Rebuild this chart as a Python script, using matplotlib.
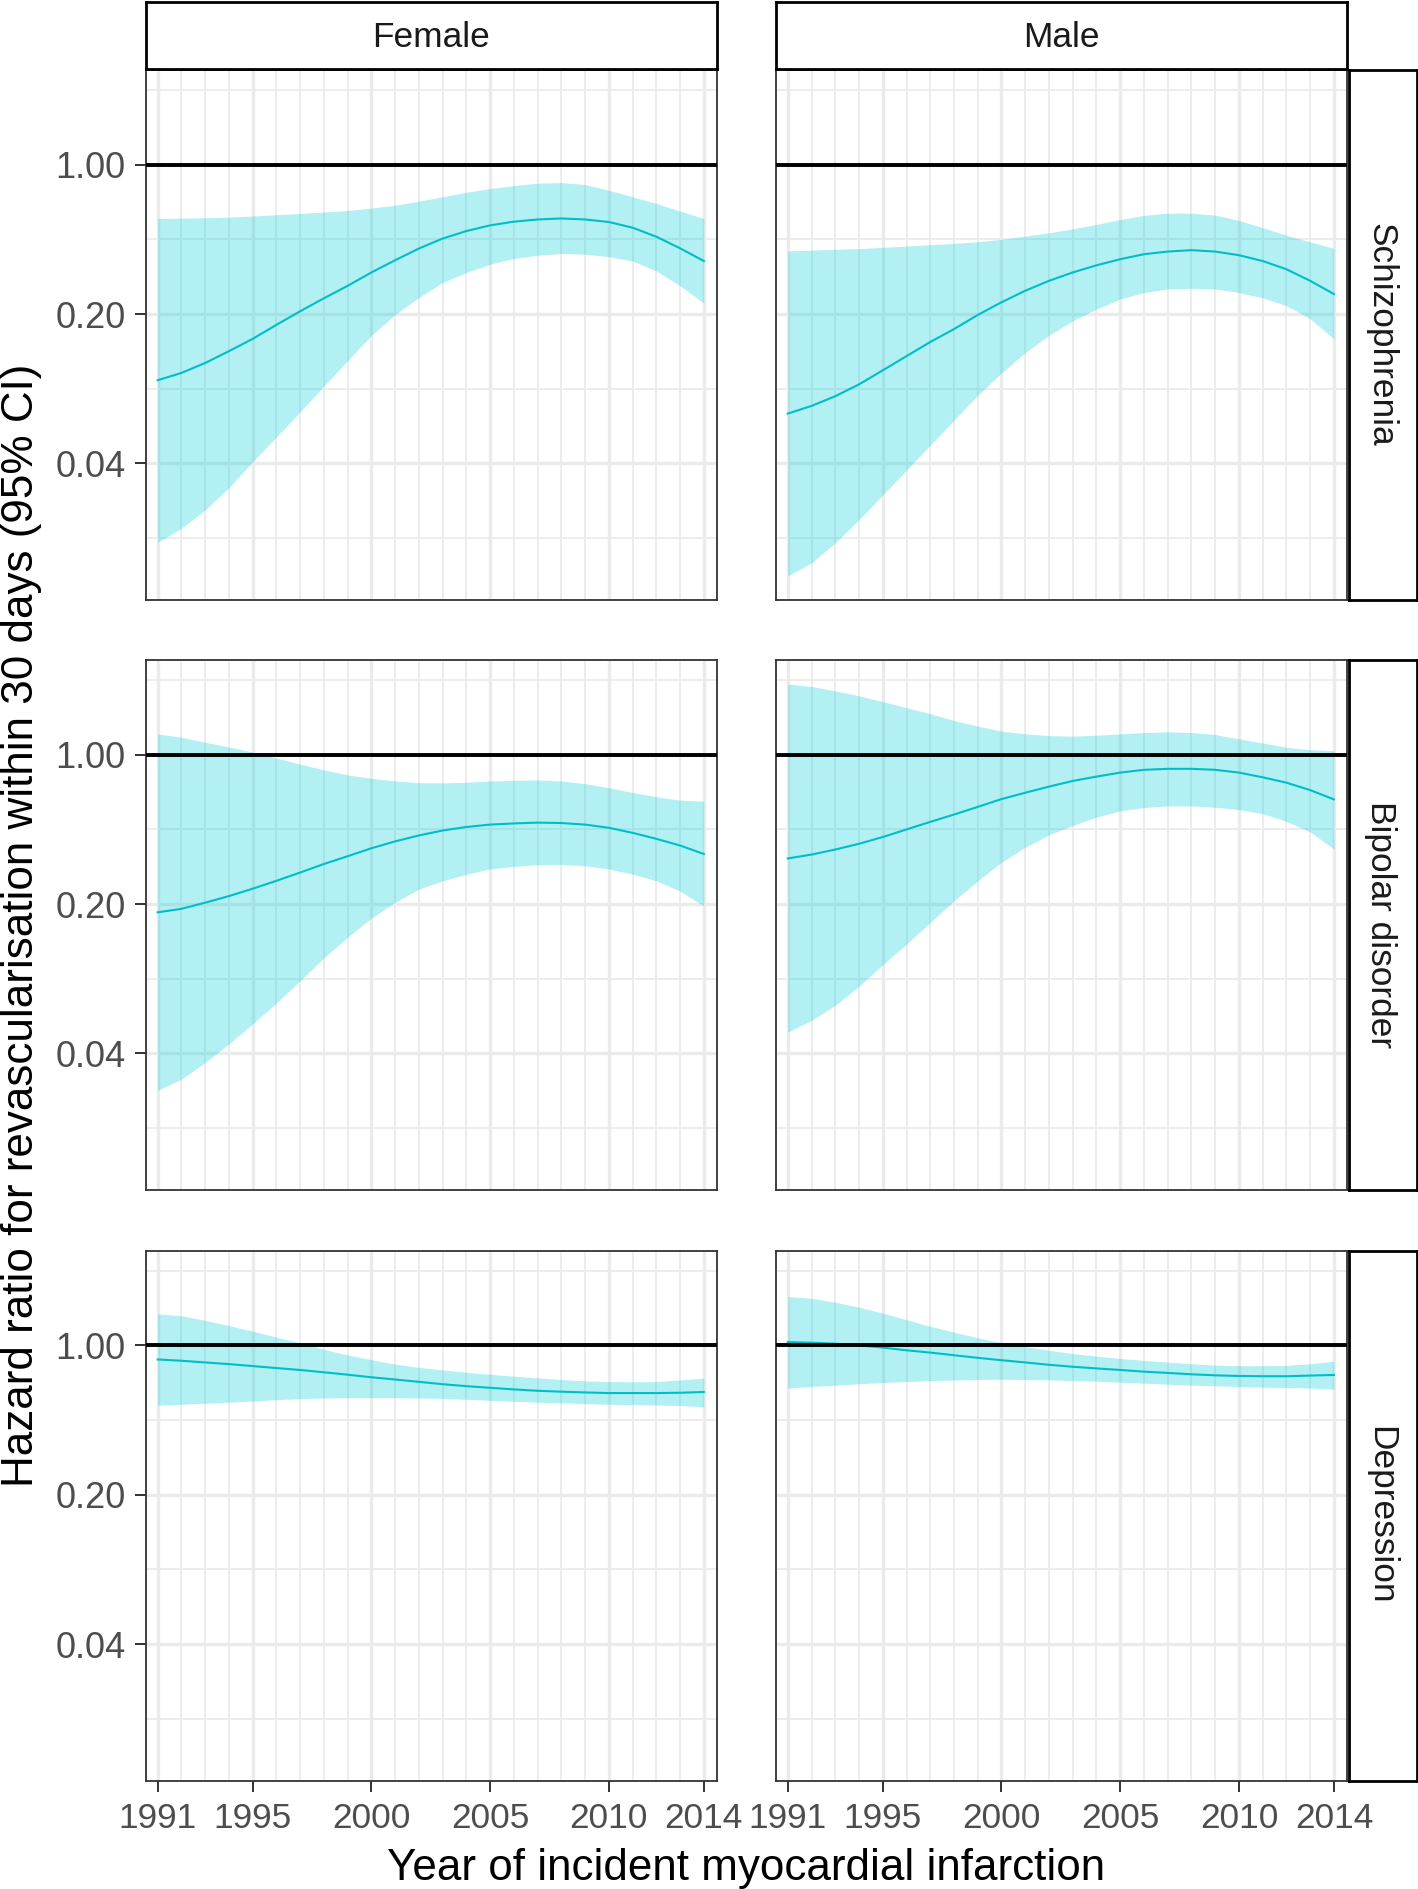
import numpy as np
import matplotlib.pyplot as plt
from matplotlib.ticker import NullFormatter

plt.rcParams['font.family'] = ['Liberation Sans', 'DejaVu Sans']

years = list(range(1991, 2015))
sexes = ['Female', 'Male']
disorders = ['Schizophrenia', 'Bipolar disorder', 'Depression']

# hazard ratio, lower and upper 95% CI (one value per year 1991-2014)
schiz_f_hr = [0.098, 0.106, 0.118, 0.134, 0.153, 0.178, 0.206, 0.237, 0.271, 0.313, 0.357, 0.405,
              0.451, 0.489, 0.520, 0.541, 0.554, 0.560, 0.554, 0.539, 0.507, 0.460, 0.406, 0.354]
schiz_f_lo = [0.0171, 0.0199, 0.0242, 0.0308, 0.0407, 0.0532, 0.0697, 0.092, 0.121, 0.159, 0.199, 0.239,
              0.281, 0.313, 0.342, 0.364, 0.377, 0.384, 0.381, 0.371, 0.354, 0.318, 0.271, 0.225]
schiz_f_hi = [0.560, 0.562, 0.564, 0.568, 0.575, 0.583, 0.591, 0.600, 0.610, 0.626, 0.646, 0.675,
              0.707, 0.743, 0.773, 0.798, 0.819, 0.824, 0.807, 0.759, 0.707, 0.658, 0.606, 0.560]

schiz_m_hr = [0.0684, 0.0743, 0.0825, 0.0937, 0.109, 0.127, 0.148, 0.170, 0.198, 0.227, 0.257, 0.286,
              0.313, 0.338, 0.361, 0.381, 0.392, 0.398, 0.392, 0.377, 0.354, 0.324, 0.286, 0.248]
schiz_m_lo = [0.0119, 0.0137, 0.0170, 0.0218, 0.0285, 0.0372, 0.0487, 0.0637, 0.0833, 0.106, 0.132, 0.159,
              0.186, 0.211, 0.235, 0.252, 0.262, 0.264, 0.262, 0.252, 0.238, 0.219, 0.190, 0.153]
schiz_m_hi = [0.395, 0.398, 0.402, 0.405, 0.410, 0.416, 0.422, 0.428, 0.436, 0.447, 0.463, 0.480,
              0.501, 0.525, 0.554, 0.579, 0.593, 0.593, 0.581, 0.548, 0.507, 0.467, 0.435, 0.406]

bipol_f_hr = [0.183, 0.190, 0.203, 0.218, 0.236, 0.257, 0.281, 0.308, 0.335, 0.365, 0.393, 0.419,
              0.442, 0.459, 0.471, 0.477, 0.481, 0.479, 0.471, 0.455, 0.431, 0.404, 0.376, 0.343]
bipol_f_lo = [0.0269, 0.0303, 0.0363, 0.0443, 0.0550, 0.0689, 0.0875, 0.112, 0.140, 0.172, 0.204, 0.235,
              0.257, 0.276, 0.292, 0.300, 0.306, 0.307, 0.302, 0.292, 0.276, 0.257, 0.230, 0.196]
bipol_f_hi = [1.252, 1.207, 1.144, 1.087, 1.029, 0.965, 0.904, 0.850, 0.804, 0.776, 0.754, 0.740,
              0.738, 0.743, 0.754, 0.759, 0.762, 0.754, 0.732, 0.701, 0.666, 0.636, 0.613, 0.606]

bipol_m_hr = [0.327, 0.341, 0.360, 0.383, 0.412, 0.447, 0.485, 0.525, 0.570, 0.620, 0.664, 0.709,
              0.754, 0.790, 0.825, 0.850, 0.859, 0.859, 0.850, 0.825, 0.784, 0.740, 0.683, 0.618]
bipol_m_lo = [0.0503, 0.0571, 0.0672, 0.0826, 0.104, 0.130, 0.164, 0.207, 0.257, 0.314, 0.369, 0.422,
              0.467, 0.511, 0.546, 0.566, 0.576, 0.576, 0.568, 0.554, 0.530, 0.488, 0.435, 0.362]
bipol_m_hi = [2.141, 2.087, 1.991, 1.886, 1.773, 1.661, 1.556, 1.447, 1.361, 1.289, 1.252, 1.229,
              1.221, 1.234, 1.252, 1.270, 1.280, 1.270, 1.243, 1.186, 1.135, 1.083, 1.056, 1.044]

depr_f_hr = [0.859, 0.847, 0.832, 0.817, 0.800, 0.783, 0.767, 0.748, 0.729, 0.709, 0.692, 0.675,
             0.658, 0.644, 0.633, 0.622, 0.613, 0.607, 0.602, 0.598, 0.598, 0.598, 0.600, 0.605]
depr_f_lo = [0.525, 0.530, 0.536, 0.542, 0.549, 0.557, 0.563, 0.567, 0.569, 0.569, 0.569, 0.567,
             0.565, 0.559, 0.553, 0.547, 0.542, 0.538, 0.534, 0.530, 0.528, 0.526, 0.523, 0.515]
depr_f_hi = [1.405, 1.376, 1.309, 1.237, 1.165, 1.093, 1.029, 0.958, 0.902, 0.856, 0.817, 0.789,
             0.767, 0.748, 0.732, 0.717, 0.704, 0.692, 0.682, 0.677, 0.675, 0.677, 0.689, 0.702]

depr_m_hr = [1.036, 1.029, 1.018, 1.000, 0.976, 0.948, 0.925, 0.899, 0.874, 0.852, 0.832, 0.811,
             0.794, 0.780, 0.767, 0.753, 0.743, 0.732, 0.724, 0.719, 0.717, 0.717, 0.722, 0.727]
depr_m_lo = [0.631, 0.642, 0.651, 0.661, 0.670, 0.677, 0.684, 0.689, 0.692, 0.694, 0.692, 0.689,
             0.684, 0.680, 0.672, 0.665, 0.658, 0.651, 0.647, 0.642, 0.637, 0.635, 0.631, 0.624]
depr_m_hi = [1.690, 1.661, 1.591, 1.508, 1.415, 1.318, 1.228, 1.152, 1.085, 1.029, 0.986, 0.948,
             0.915, 0.890, 0.868, 0.850, 0.835, 0.820, 0.808, 0.803, 0.803, 0.806, 0.820, 0.844]

x_breaks = [1991, 1995, 2000, 2005, 2010, 2014]
y_breaks = [0.04, 0.20, 1.00]
y_labels = ['0.04', '0.20', '1.00']

panels = {
    ('Schizophrenia', 'Female'): (schiz_f_hr, schiz_f_lo, schiz_f_hi),
    ('Schizophrenia', 'Male'): (schiz_m_hr, schiz_m_lo, schiz_m_hi),
    ('Bipolar disorder', 'Female'): (bipol_f_hr, bipol_f_lo, bipol_f_hi),
    ('Bipolar disorder', 'Male'): (bipol_m_hr, bipol_m_lo, bipol_m_hi),
    ('Depression', 'Female'): (depr_f_hr, depr_f_lo, depr_f_hi),
    ('Depression', 'Male'): (depr_m_hr, depr_m_lo, depr_m_hi),
}

W, H = 1418, 1889
fig = plt.figure(figsize=(W / 100, H / 100), dpi=100)


def box(x0, x1, y0, y1):
    return [x0 / W, 1 - y1 / H, (x1 - x0) / W, (y1 - y0) / H]


cols_px = [(145.8, 716.9), (775.9, 1347.0)]
rows_px = [(69.9, 600.0), (660.0, 1190.0), (1250.6, 1780.7)]

# shared log y range with 5% expansion like ggplot
allv = np.concatenate([np.concatenate(v) for v in panels.values()])
lmin, lmax = np.log10(allv.min()), np.log10(allv.max())
pad = 0.05 * (lmax - lmin)
ylim = (10 ** (lmin - pad), 10 ** (lmax + pad))

y_minor = [np.sqrt(a * b) for a, b in zip([0.008] + y_breaks, y_breaks + [5.0])]
x_minor = [y for y in years if y not in x_breaks]

grid_c = '#EBEBEB'
for i, dis in enumerate(disorders):
    for j, sex in enumerate(sexes):
        hr, lo, hi = panels[(dis, sex)]
        ax = fig.add_axes(box(cols_px[j][0], cols_px[j][1], rows_px[i][0], rows_px[i][1]))
        ax.set_yscale('log')
        ax.set_xlim(1990.5, 2014.55)
        ax.set_ylim(*ylim)
        ax.set_xticks(x_breaks)
        ax.set_xticks(x_minor, minor=True)
        ax.set_yticks(y_breaks)
        ax.set_yticks(y_minor, minor=True)
        ax.yaxis.set_minor_formatter(NullFormatter())
        ax.set_yticklabels(y_labels)
        ax.set_axisbelow(True)
        ax.grid(which='major', color=grid_c, lw=2.4)
        ax.grid(which='minor', color=grid_c, lw=1.3)

        ax.fill_between(years, lo, hi, color='#00CFDD', alpha=0.3, lw=0, zorder=2)
        ax.plot(years, hr, color='#00BFC4', lw=1.5, zorder=3)
        ax.axhline(1.0, color='black', lw=2.8, zorder=4)

        for s in ax.spines.values():
            s.set_color('#333333')
            s.set_linewidth(1.3)
        ax.tick_params(which='minor', length=0)
        ax.tick_params(which='major', direction='out', length=8, width=1.4,
                       color='#333333', labelcolor='#4D4D4D', labelsize=25.4)
        ax.tick_params(axis='y', labelsize=26)
        ax.tick_params(axis='x', pad=7)
        ax.tick_params(axis='y', pad=6.5)
        if j > 0:
            ax.tick_params(axis='y', length=0, labelleft=False)
        if i < len(disorders) - 1:
            ax.tick_params(axis='x', length=0, labelbottom=False)

# facet strips
for j, sex in enumerate(sexes):
    sa = fig.add_axes(box(cols_px[j][0], cols_px[j][1], 1.5, 68.5))
    sa.set_xticks([])
    sa.set_yticks([])
    for s in sa.spines.values():
        s.set_color('black')
        s.set_linewidth(2.0)
    sa.text(0.5, 0.46, sex, ha='center', va='center', fontsize=25.4,
            color='#1A1A1A', transform=sa.transAxes)

for i, dis in enumerate(disorders):
    sa = fig.add_axes(box(1349.0, 1416.5, rows_px[i][0], rows_px[i][1]))
    sa.set_xticks([])
    sa.set_yticks([])
    for s in sa.spines.values():
        s.set_color('black')
        s.set_linewidth(2.0)
    sa.text(0.47, 0.5, dis, ha='center', va='center', fontsize=25.4, rotation=-90,
            color='#1A1A1A', transform=sa.transAxes)

fig.text(746.4 / W, 1 - 1880 / H, 'Year of incident myocardial infarction',
         ha='center', va='baseline', fontsize=31.7, color='black')
fig.text(21.5 / W, 1 - 925 / H, 'Hazard ratio for revascularisation within 30 days (95% CI)',
         ha='center', va='center', rotation=90, fontsize=31.7, color='black')

fig.savefig('out.png', dpi=100)
